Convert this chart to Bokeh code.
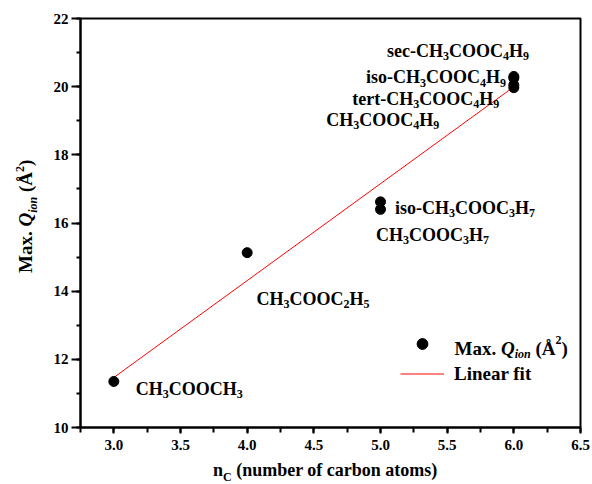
import re
import numpy as np
from bokeh.plotting import figure
from bokeh.layouts import row, column
from bokeh.models import (Label, Range1d, SingleIntervalTicker, PrintfTickFormatter,
                          Legend, LegendItem, Div)
from bokeh.embed import file_html
from bokeh.resources import INLINE

# ---------------- data ----------------
n_carbon = [3, 4, 5, 5, 6, 6, 6, 6]
q_ion = [11.35, 15.13, 16.62, 16.40, 20.30, 20.25, 20.05, 19.97]
compounds = ["CH3COOCH3", "CH3COOC2H5", "iso-CH3COOC3H7", "CH3COOC3H7",
             "sec-CH3COOC4H9", "iso-CH3COOC4H9", "tert-CH3COOC4H9", "CH3COOC4H9"]
# label anchor positions (data units, baseline-left of text)
label_x = [3.165, 4.07, 5.109, 4.967, 5.049, 4.892, 4.788, 4.593]
label_y = [11.12, 13.76, 16.43, 15.66, 21.06, 20.27, 19.65, 19.01]
x_ticks_interval = 0.5
y_ticks_interval = 2

FONT = "Liberation Serif"
X0, X1, Y0, Y1 = 2.75, 6.5, 10, 22

# Times-Bold advance widths (per 1000 em)
W_B = {' ': 250, '(': 333, ')': 333, '-': 333, '.': 250, 'A': 722, 'C': 722, 'H': 778,
       'L': 667, 'M': 944, 'O': 778, 'Q': 778, 'a': 500, 'b': 556, 'c': 444, 'e': 444,
       'f': 333, 'i': 278, 'm': 833, 'n': 556, 'o': 500, 'r': 444, 's': 389, 't': 333,
       'u': 556, 'x': 500, 'Å': 722}
W_BI = {'Q': 722, 'i': 278, 'o': 500, 'n': 556}


def text_width(s, size, italic=False):
    tbl = W_BI if italic else W_B
    return sum(tbl.get(ch, 500) for ch in s) * size / 1000.0


def rich(p, x, y, segs, size, sub_size, dx=0.0, dy=0.0):
    pos = 0.0
    for text, kind, italic in segs:
        fs = size if kind == 'n' else sub_size
        shift = {'n': 0.0, 'sub': -0.28 * size, 'sup': 0.45 * size}[kind]
        lead = len(text) - len(text.lstrip(' '))
        pos += text_width(' ' * lead, fs, italic)
        core = text.strip(' ')
        if core:
            p.add_layout(Label(x=x, y=y, x_offset=dx + pos, y_offset=dy + shift, text=core,
                               text_font=FONT,
                               text_font_style='bold italic' if italic else 'bold',
                               text_font_size=f"{fs}px", text_baseline='alphabetic',
                               text_align='left', text_color='black'))
        pos += text_width(text.lstrip(' '), fs, italic)


def formula_segs(s):
    return [(part, 'sub' if part.isdigit() else 'n', False)
            for part in re.findall(r'\d+|\D+', s)]


p = figure(width=547, height=462, output_backend="svg", toolbar_location=None,
           x_range=Range1d(X0, X1), y_range=Range1d(Y0, Y1),
           min_border_left=35, min_border_right=12, min_border_top=18, min_border_bottom=35)
p.background_fill_color = "white"
p.border_fill_color = "white"
p.xgrid.visible = False
p.ygrid.visible = False
p.outline_line_color = "black"
p.outline_line_width = 2

p.xaxis.ticker = SingleIntervalTicker(interval=x_ticks_interval, num_minor_ticks=2)
p.yaxis.ticker = SingleIntervalTicker(interval=y_ticks_interval, num_minor_ticks=2)
p.xaxis.formatter = PrintfTickFormatter(format="%.1f")
for ax in (p.xaxis[0], p.yaxis[0]):
    ax.axis_line_width = 2
    ax.axis_line_color = "black"
    ax.major_tick_line_width = 2
    ax.minor_tick_line_width = 2
    ax.major_tick_in = 0
    ax.minor_tick_in = 0
    ax.major_label_text_font = FONT
    ax.major_label_text_font_style = "bold"
    ax.major_label_text_font_size = "15px"
    ax.major_label_text_color = "black"
    ax.axis_label = None
p.xaxis.major_tick_out = 6
p.xaxis.minor_tick_out = 5
p.xaxis.major_label_standoff = 6
p.yaxis.major_tick_out = 9
p.yaxis.minor_tick_out = 4
p.yaxis.major_label_standoff = 3

# linear fit from data
coef = np.polyfit(n_carbon, q_ion, 1)
fx = np.array([min(n_carbon), max(n_carbon)])
fy = np.polyval(coef, fx)
ln = p.line(fx, fy, line_color="red", line_width=1)
sc = p.scatter(n_carbon, q_ion, size=10, marker="circle", fill_color="black", line_color="black")

legend = Legend(items=[LegendItem(label=" ", renderers=[sc]),
                       LegendItem(label="Linear fit", renderers=[ln])],
                location=(320, 40), padding=0, margin=0, border_line_alpha=0,
                background_fill_alpha=0, glyph_width=44, glyph_height=27,
                label_height=27, spacing=3, label_standoff=10,
                label_text_font=FONT, label_text_font_style="bold",
                label_text_font_size="19px", label_text_color="black")
p.add_layout(legend)

# compound labels
for s, lx, ly in zip(compounds, label_x, label_y):
    rich(p, lx, ly, formula_segs(s), 18, 12)

# legend rich label
rich(p, X0, Y0, [("Max. ", 'n', False), ("Q", 'n', True), ("ion", 'sub', True),
                 (" (Å", 'n', False), ("2", 'sup', False), (")", 'n', False)],
     19, 12, dx=374, dy=79)

# axis titles as HTML text (subscripts / superscripts)
base = f"font-family:'{FONT}';font-weight:bold;color:black;white-space:nowrap;position:absolute;margin:0;padding:0;"
sub = "font-size:12px;vertical-align:-5px;line-height:0;"
sup = "font-size:12px;vertical-align:8px;line-height:0;"
y_title_html = (f"<div style=\"{base}font-size:19px;line-height:19px;left:16px;top:273px;"
                f"transform:rotate(-90deg);transform-origin:left top;\">"
                f"Max. <i>Q</i><span style=\"{sub}font-style:italic;\">ion</span> "
                f"(Å<span style=\"{sup}\">2</span>)</div>")
x_title_html = (f"<div style=\"{base}font-size:18px;line-height:14px;left:168px;top:1px;\">"
                f"n<span style=\"{sub}\">C</span> (number of carbon atoms)</div>")

left = Div(text=y_title_html, width=45, height=484, margin=0,
           styles={"position": "relative", "overflow": "visible"})
bottom = Div(text=x_title_html, width=547, height=22, margin=0,
             styles={"position": "relative", "overflow": "visible"})

layout = row(left, column(p, bottom, spacing=0), spacing=0)
open("out.html", "w").write(file_html(layout, INLINE))
